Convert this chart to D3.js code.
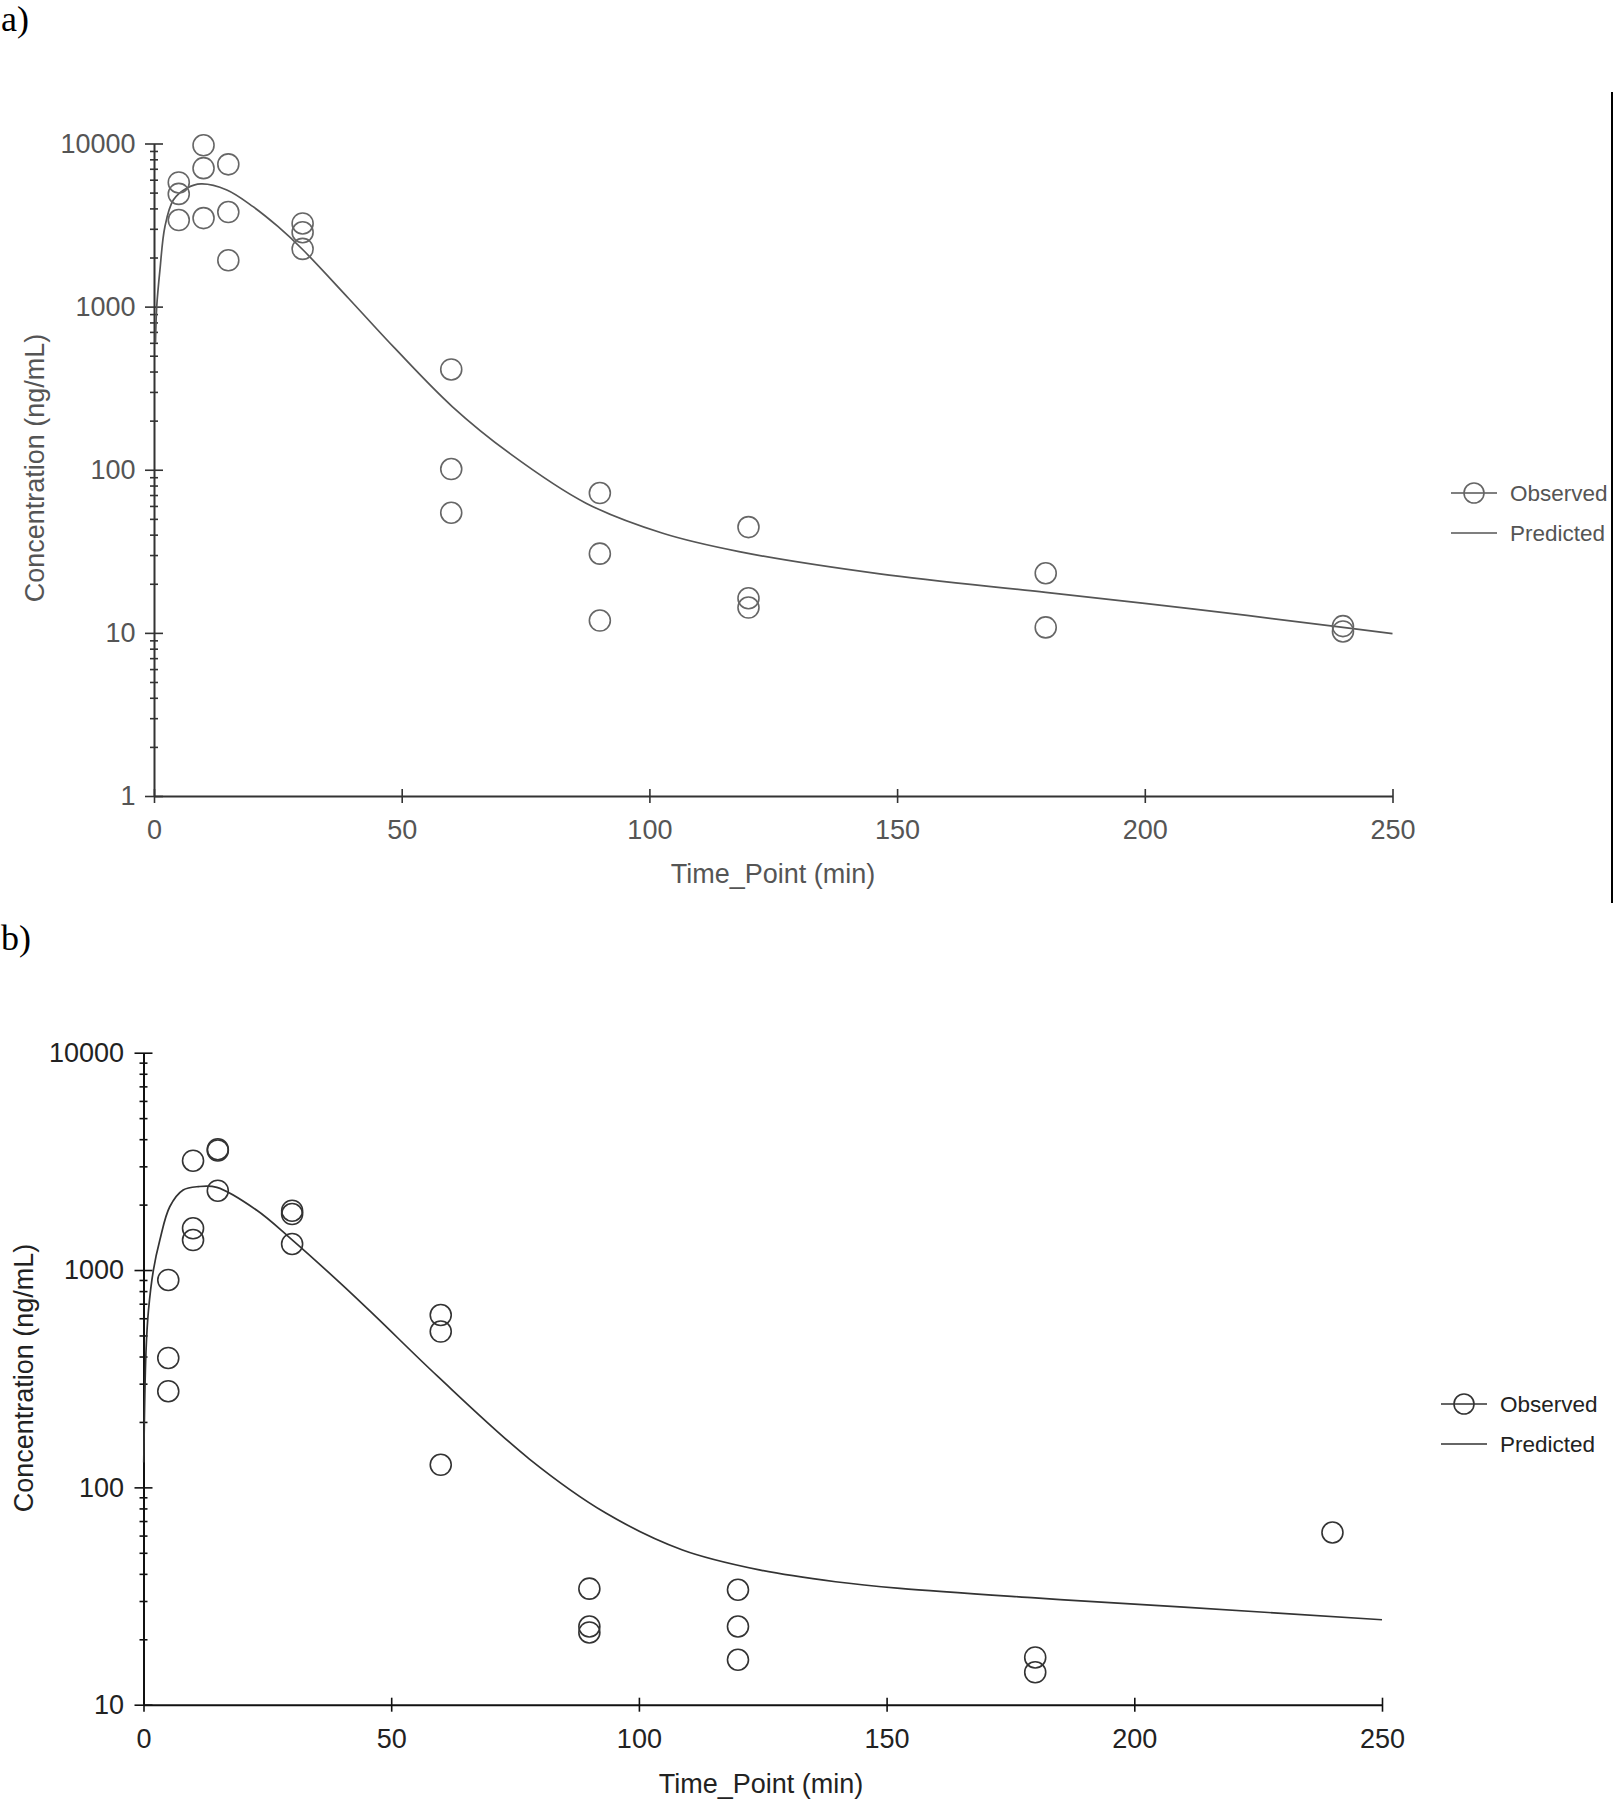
<!DOCTYPE html>
<html><head><meta charset="utf-8">
<script src="https://cdn.jsdelivr.net/npm/d3@7"></script>
<style>
body{margin:0;background:#fff}
</style>
</head><body>
<svg id="c" width="1614" height="1800" xmlns="http://www.w3.org/2000/svg"></svg>
<script>
// ---------- Panel a data ----------
const obsTimeA = [5,5,5,10,10,10,15,15,15,30,30,30,60,60,60,90,90,90,120,120,120,180,180,240,240];
const obsConcA = [5770,4910,3395,9750,7060,3490,7450,3800,1923,3236,2857,2259,412,101,54.5,72,30.6,11.9,44.5,16.3,14.3,23.2,10.8,11.0,10.2];
const predTimeA = [0.3,0.55,1.2,2.2,3.9,6.6,9.5,14.7,20,25,30,39.3,48.6,60.2,71.8,87.2,102.7,118.1,146.5,180,210,240,250];
const predConcA = [600,1000,1679,3090,4508,5320,5650,5190,4100,3100,2240,1122,556,244,126,62.4,40.8,31.5,23.0,17.7,14.0,10.8,9.9];

// ---------- Panel b data ----------
const obsTimeB = [5,5,5,10,10,10,15,15,15,30,30,30,60,60,60,90,90,90,120,120,120,180,180,240];
const obsConcB = [900,394,277,3185,1556,1374,3597,3550,2317,1875,1810,1318,621,521,127,34.2,22.9,21.5,33.8,22.9,16.1,16.5,14.1,62];
const predTimeB = [0.05,0.5,1,2,3.3,5.3,8,11.1,14.8,22.8,29.6,40,47,59.4,77.9,93.4,108.8,124.3,139.7,152.7,180,210,250];
const predConcB = [130,420,650,1000,1374,1955,2333,2420,2400,1888,1403,859,607,324,135,76,51.5,41.7,36.8,34.3,31,28.1,24.6];

// ---------- tick labels ----------
const xTicks = [0,50,100,150,200,250];
const yMajorA = [1,10,100,1000,10000];
const yMajorB = [10,100,1000,10000];
const legendLabels = ["Observed","Predicted"];
const panelLabels = ["a)","b)"];
const xTitle = "Time_Point (min)";
const yTitle = "Concentration (ng/mL)";

function minorsFor(majors){
  const out=[];
  for(let i=0;i<majors.length-1;i++) for(let k=2;k<=9;k++) out.push(majors[i]*k);
  return out;
}

const svg = d3.select("#c");
svg.append("rect").attr("width",1614).attr("height",1800).attr("fill","#fff");
const FONT = "'Liberation Sans', Arial, sans-serif";

function panel(cfg){
  const g = svg.append("g");
  const x = d3.scaleLinear().domain([0,250]).range([cfg.x0,cfg.x1]);
  const y = d3.scaleLog().domain(cfg.ydom).range([cfg.y0,cfg.y1]);

  // minor y ticks
  const ym = g.append("g").attr("transform",`translate(${cfg.x0},0)`)
    .call(d3.axisLeft(y).tickValues(minorsFor(cfg.majors)).tickFormat("").tickSize(4).tickSizeOuter(0));
  ym.select(".domain").remove();
  ym.selectAll("line").attr("x1",4).attr("stroke",cfg.axisCol).attr("stroke-width",1.6);

  // major y ticks
  const ya = g.append("g").attr("transform",`translate(${cfg.x0},0)`)
    .call(d3.axisLeft(y).tickValues(cfg.majors).tickFormat(d3.format("d")).tickSize(9).tickPadding(cfg.ypad).tickSizeOuter(0));
  ya.attr("font-size",27).attr("font-family",FONT);
  ya.select(".domain").attr("stroke",cfg.axisCol).attr("stroke-width",2);
  ya.selectAll("line").attr("x1",9).attr("stroke",cfg.axisCol).attr("stroke-width",1.6);
  ya.selectAll("text").attr("fill",cfg.textCol);

  // x axis
  const xa = g.append("g").attr("transform",`translate(0,${cfg.y0})`)
    .call(d3.axisBottom(x).tickValues(xTicks).tickSize(7).tickPadding(17).tickSizeOuter(0));
  xa.attr("font-size",27).attr("font-family",FONT);
  xa.select(".domain").attr("stroke",cfg.axisCol).attr("stroke-width",2);
  xa.selectAll("line").attr("y1",-7).attr("stroke",cfg.axisCol).attr("stroke-width",1.6);
  xa.selectAll("text").attr("fill",cfg.textCol);

  // predicted curve
  const line = d3.line().x(d=>x(d[0])).y(d=>y(d[1])).curve(d3.curveCatmullRom.alpha(0.5));
  const pd = cfg.pt.map((t,i)=>[t,cfg.pc[i]]);
  g.append("path").attr("d",line(pd)).attr("fill","none").attr("stroke",cfg.lineCol).attr("stroke-width",1.7);

  // observed
  g.selectAll("circle.obs").data(cfg.ot.map((t,i)=>[t,cfg.oc[i]])).join("circle")
    .attr("class","obs").attr("cx",d=>x(d[0])).attr("cy",d=>y(d[1])).attr("r",10.5)
    .attr("fill","none").attr("stroke",cfg.circCol).attr("stroke-width",1.6);

  // titles
  g.append("text").attr("x",cfg.xtX).attr("y",cfg.xtY).attr("text-anchor","middle")
    .attr("font-family",FONT).attr("font-size",27).attr("fill",cfg.textCol).text(xTitle);
  g.append("text").attr("transform",`translate(${cfg.ytX},${cfg.ytY}) rotate(-90)`).attr("text-anchor","middle")
    .attr("font-family",FONT).attr("font-size",27).attr("fill",cfg.textCol).text(yTitle);

  // legend
  const lg = g.append("g");
  lg.append("line").attr("x1",cfg.lgX).attr("x2",cfg.lgX+46).attr("y1",cfg.lgY).attr("y2",cfg.lgY)
    .attr("stroke",cfg.lineCol).attr("stroke-width",1.6);
  lg.append("circle").attr("cx",cfg.lgX+23).attr("cy",cfg.lgY).attr("r",10).attr("fill","none")
    .attr("stroke",cfg.circCol).attr("stroke-width",1.6);
  lg.append("line").attr("x1",cfg.lgX).attr("x2",cfg.lgX+46).attr("y1",cfg.lgY+cfg.lgGap).attr("y2",cfg.lgY+cfg.lgGap)
    .attr("stroke",cfg.lineCol).attr("stroke-width",1.6);
  lg.selectAll("text").data(legendLabels).join("text")
    .attr("x",cfg.lgX+59).attr("y",(d,i)=>cfg.lgY+i*cfg.lgGap+8)
    .attr("font-family",FONT).attr("font-size",22.5).attr("fill",cfg.textCol).text(d=>d);

  // panel label
  svg.append("text").attr("x",1).attr("y",cfg.plY).attr("font-family","'Liberation Serif','Times New Roman',serif")
    .attr("font-size",36).attr("fill","#000").text(cfg.pl);
}

panel({x0:154,x1:1392.5,y0:796,y1:143.5,ydom:[1,10000],majors:yMajorA,ypad:9.5,
  ot:obsTimeA,oc:obsConcA,pt:predTimeA,pc:predConcA,
  axisCol:"#333",textCol:"#555",lineCol:"#555",circCol:"#666",
  xtX:773,xtY:883,ytX:44,ytY:468,lgX:1451,lgY:493,lgGap:40,plY:31,pl:panelLabels[0]});

panel({x0:143.5,x1:1382,y0:1704.7,y1:1052.7,ydom:[10,10000],majors:yMajorB,ypad:10.5,
  ot:obsTimeB,oc:obsConcB,pt:predTimeB,pc:predConcB,
  axisCol:"#111",textCol:"#222",lineCol:"#333",circCol:"#333",
  xtX:761,xtY:1793,ytX:33,ytY:1378,lgX:1441,lgY:1404,lgGap:40,plY:950,pl:panelLabels[1]});

// right border line of panel a
svg.append("line").attr("x1",1612).attr("x2",1612).attr("y1",92).attr("y2",903).attr("stroke","#000").attr("stroke-width",2);
</script>
</body></html>
